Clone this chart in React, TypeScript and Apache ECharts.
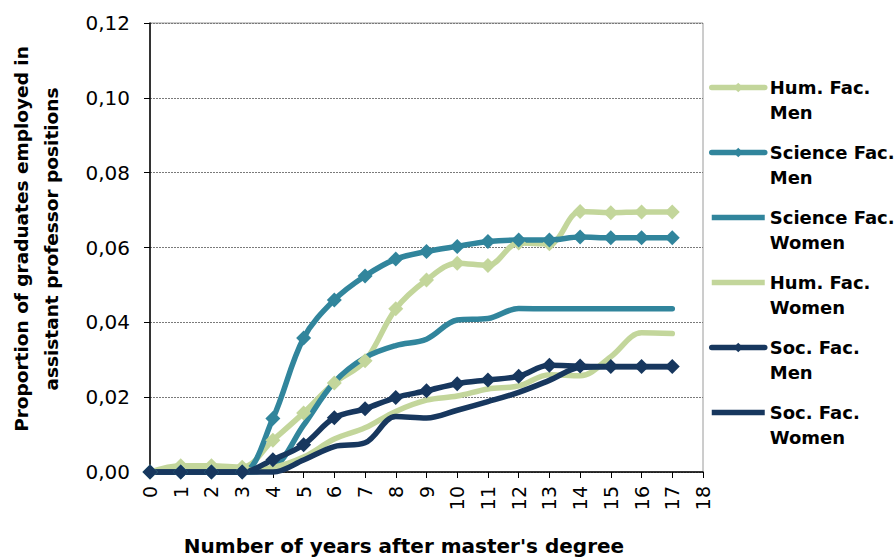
import React, { useEffect, useRef } from "react";
import * as echarts from "echarts";

const years = [0, 1, 2, 3, 4, 5, 6, 7, 8, 9, 10, 11, 12, 13, 14, 15, 16, 17];
const yTicks = [0, 0.02, 0.04, 0.06, 0.08, 0.1, 0.12];

const humMen = [0, 0.0017, 0.0017, 0.0013, 0.0085, 0.0158, 0.0238, 0.0297, 0.0436, 0.0513, 0.0558, 0.0552, 0.0612, 0.061, 0.0696, 0.0693, 0.0695, 0.0695];
const sciMen = [0, 0, 0, 0, 0.0143, 0.0358, 0.046, 0.0524, 0.0569, 0.0589, 0.0603, 0.0616, 0.062, 0.062, 0.0628, 0.0626, 0.0626, 0.0626];
const sciWomen = [0, 0, 0, 0, 0.0012, 0.0125, 0.024, 0.0306, 0.0338, 0.0355, 0.0406, 0.041, 0.0437, 0.0436, 0.0436, 0.0436, 0.0436, 0.0436];
const humWomen = [0, 0.0008, 0.0008, 0.0005, 0.0012, 0.004, 0.0088, 0.0118, 0.0162, 0.0192, 0.0203, 0.0222, 0.023, 0.026, 0.0257, 0.0308, 0.0372, 0.037];
const socMen = [0, 0, 0, 0, 0.0033, 0.0073, 0.0145, 0.0169, 0.0199, 0.0217, 0.0236, 0.0246, 0.0256, 0.0285, 0.0283, 0.0282, 0.0282, 0.0282];
const socWomen = [0, 0, 0, 0, 0, 0.0032, 0.0068, 0.0078, 0.0148, 0.0144, 0.0165, 0.0188, 0.0213, 0.0245, 0.0279, 0.0281, 0.0281, 0.0281];

const seriesNames = [
  "Hum. Fac.\nMen",
  "Science Fac.\nMen",
  "Science Fac.\nWomen",
  "Hum. Fac.\nWomen",
  "Soc. Fac.\nMen",
  "Soc. Fac.\nWomen",
];
const hasMarker = [true, true, false, false, true, false];

const HUM = "#c3d69b";
const SCI = "#31859c";
const SOC = "#17375e";

const LINE_ICON = "path://M0,0 H106 V11 H0 Z";

export default function App() {
  const ref = useRef<HTMLDivElement>(null);
  useEffect(() => {
    if (!ref.current) return;
    const chart = echarts.init(ref.current, undefined, { renderer: "svg" });
    const mk = (name: string, vals: number[], color: string, marker: boolean) => ({
      type: "line",
      name,
      data: years.map((y, i) => [y, vals[i]]),
      smooth: 0.35,
      symbol: marker ? "diamond" : "none",
      symbolSize: 15,
      showAllSymbol: true,
      clip: false,
      color,
      itemStyle: { color },
      lineStyle: { color, width: 5.5, cap: "round", join: "round" },
    });
    const boldFont = "DejaVu Sans, sans-serif";
    chart.setOption({
      animation: false,
      backgroundColor: "#ffffff",
      grid: {
        left: 150,
        right: 193,
        top: 23,
        bottom: 85,
        show: true,
        borderColor: "#9a9a9a",
        borderWidth: 1,
      },
      legend: {
        orient: "vertical",
        left: 704,
        top: 45,
        itemWidth: 53,
        itemHeight: 12,
        itemGap: -10,
        selectedMode: false,
        lineStyle: { width: 5.5, cap: "round" },
        formatter: (name: string) => "\n" + name,
        textStyle: {
          fontFamily: boldFont,
          fontWeight: "bold",
          fontSize: 18,
          lineHeight: 25,
          color: "#000",
        },
        data: seriesNames.map((n, i) =>
          hasMarker[i] ? { name: n } : { name: n, icon: LINE_ICON }
        ),
      },
      xAxis: {
        type: "value",
        min: 0,
        max: 18,
        interval: 1,
        axisLine: { show: true, onZero: false, lineStyle: { color: "#000", width: 1.5 } },
        axisTick: { show: true, length: 6, lineStyle: { color: "#000" } },
        splitLine: { show: false },
        axisLabel: {
          rotate: 90,
          margin: 14,
          fontFamily: "DejaVu Sans",
          fontSize: 19,
          color: "#000",
        },
      },
      yAxis: {
        type: "value",
        min: yTicks[0],
        max: yTicks[yTicks.length - 1],
        interval: 0.02,
        axisLine: { show: true, lineStyle: { color: "#000", width: 1.5 } },
        axisTick: { show: true, length: 6, lineStyle: { color: "#000" } },
        splitLine: { show: true, lineStyle: { color: "#7a7a7a", type: [2, 1], width: 1 } },
        axisLabel: {
          margin: 20,
          fontFamily: "DejaVu Sans",
          fontSize: 20,
          color: "#000",
          formatter: (v: number) => v.toFixed(2).replace(".", ","),
        },
      },
      graphic: [
        {
          type: "text",
          x: 404,
          y: 546,
          style: {
            text: "Number of years after master's degree",
            fontFamily: boldFont,
            fontWeight: "bold",
            fontSize: 20,
            fill: "#000",
            textAlign: "center",
            textVerticalAlign: "middle",
          },
        },
        {
          type: "text",
          x: 36,
          y: 239,
          rotation: Math.PI / 2,
          style: {
            text: "Proportion of graduates employed in\nassistant professor positions",
            fontFamily: boldFont,
            fontWeight: "bold",
            fontSize: 18.5,
            lineHeight: 30,
            fill: "#000",
            textAlign: "center",
            textVerticalAlign: "middle",
          },
        },
      ],
      series: [
        mk(seriesNames[0], humMen, HUM, hasMarker[0]),
        mk(seriesNames[1], sciMen, SCI, hasMarker[1]),
        mk(seriesNames[2], sciWomen, SCI, hasMarker[2]),
        mk(seriesNames[3], humWomen, HUM, hasMarker[3]),
        mk(seriesNames[4], socMen, SOC, hasMarker[4]),
        mk(seriesNames[5], socWomen, SOC, hasMarker[5]),
      ],
    });
    return () => chart.dispose();
  }, []);
  return (
    <div
      ref={ref}
      style={{ position: "fixed", left: 0, top: 0, width: 896, height: 557 }}
    />
  );
}
